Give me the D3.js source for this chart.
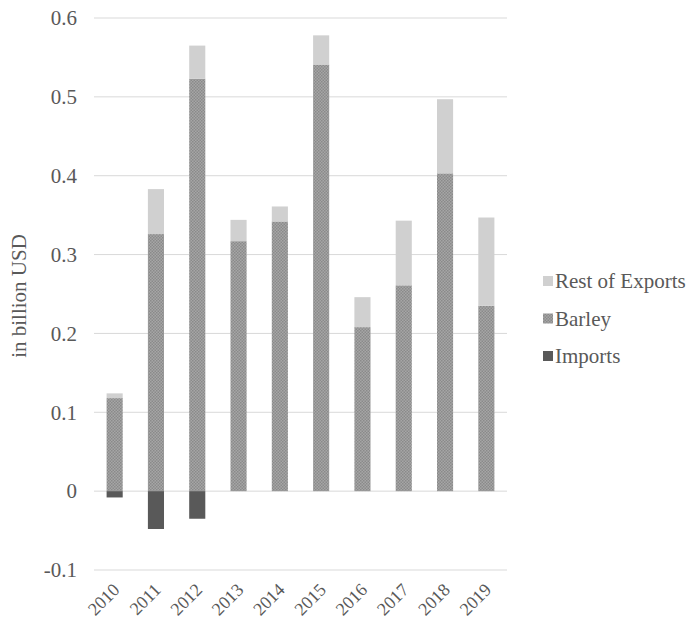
<!DOCTYPE html>
<html><head><meta charset="utf-8">
<script src="https://cdn.jsdelivr.net/npm/d3@7"></script>
<style>body{margin:0;background:#fff}svg{display:block}</style>
</head><body>
<svg id="c" width="690" height="625"></svg>
<script>
const years = ["2010","2011","2012","2013","2014","2015","2016","2017","2018","2019"];
const barley = [0.118,0.326,0.523,0.317,0.342,0.541,0.208,0.261,0.403,0.235];
const restOfExports = [0.006,0.057,0.042,0.027,0.019,0.037,0.038,0.082,0.094,0.112];
const imports = [-0.008,-0.048,-0.035,0,0,0,0,0,0,0];
const yTicks = [-0.1,0,0.1,0.2,0.3,0.4,0.5,0.6];
const seriesNames = ["Rest of Exports","Barley","Imports"];

const svg = d3.select("#c");
const textCol = "#595959";
const FONT = '"Liberation Serif"';
const FS = "21px";

const defs = svg.append("defs");
const pat = defs.append("pattern").attr("id","chk").attr("patternUnits","userSpaceOnUse")
  .attr("width",3).attr("height",3);
pat.append("rect").attr("width",3).attr("height",3).attr("fill","#a6a6a6");
pat.append("rect").attr("width",1.5).attr("height",1.5).attr("fill","#8a8a8a");
pat.append("rect").attr("x",1.5).attr("y",1.5).attr("width",1.5).attr("height",1.5).attr("fill","#8a8a8a");

const x = d3.scaleBand().domain(years).range([94,507]).paddingInner(0.61).paddingOuter(0.305);
const y = d3.scaleLinear().domain([-0.1,0.6]).range([570,18]);

// grid
svg.append("g").selectAll("line").data(yTicks).join("line")
  .attr("x1",94).attr("x2",507).attr("y1",d=>y(d)).attr("y2",d=>y(d))
  .attr("stroke","#d9d9d9").attr("stroke-width",1);

// y labels
const yAxis = d3.axisLeft(y).tickValues(yTicks).tickSize(0).tickPadding(0)
  .tickFormat(d=> d===0 ? "0" : d3.format(".1f")(d).replace("\u2212","-"));
const ya = svg.append("g").attr("transform","translate(77,0)").call(yAxis);
ya.select(".domain").remove();
ya.selectAll("text").style("font-family",FONT).style("font-size",FS).attr("fill",textCol);

// bars
const g = svg.append("g");
g.selectAll(".b").data(years).join("rect")
  .attr("x",d=>x(d)).attr("width",x.bandwidth())
  .attr("y",(d,i)=>y(barley[i])).attr("height",(d,i)=>y(0)-y(barley[i]))
  .attr("fill","url(#chk)");
g.selectAll(".r").data(years).join("rect")
  .attr("x",d=>x(d)).attr("width",x.bandwidth())
  .attr("y",(d,i)=>y(barley[i]+restOfExports[i])).attr("height",(d,i)=>y(barley[i])-y(barley[i]+restOfExports[i]))
  .attr("fill","#d0d0d0");
g.selectAll(".im").data(years.filter((d,i)=>imports[i]<0)).join("rect")
  .attr("x",d=>x(d)).attr("width",x.bandwidth())
  .attr("y",y(0)).attr("height",d=>y(imports[years.indexOf(d)])-y(0))
  .attr("fill","#595959");

// x labels
const xAxis = d3.axisBottom(x).tickSize(0).tickPadding(0);
const xa = svg.append("g").attr("transform","translate(0,584)").call(xAxis);
xa.select(".domain").remove();
xa.selectAll("text").style("font-family",FONT).style("font-size","18px").attr("fill",textCol)
  .attr("text-anchor","end").attr("dy","0").attr("dx","0")
  .attr("transform","translate(6,7) rotate(-45)");

// axis title
svg.append("text").attr("transform","translate(26,296) rotate(-90)")
  .attr("text-anchor","middle").style("font-family",FONT).style("font-size",FS).attr("fill",textCol)
  .text("in billion USD");

// legend
const fills = ["#d0d0d0","url(#chk)","#595959"];
const lg = svg.append("g");
seriesNames.forEach((n,i)=>{
  const yy = 281 + i*37.5;
  lg.append("rect").attr("x",543).attr("y",yy-5).attr("width",10).attr("height",10).attr("fill",fills[i]);
  lg.append("text").attr("x",555).attr("y",yy+7)
    .style("font-family",FONT).style("font-size",FS).attr("fill",textCol).text(n);
});
</script>
</body></html>
